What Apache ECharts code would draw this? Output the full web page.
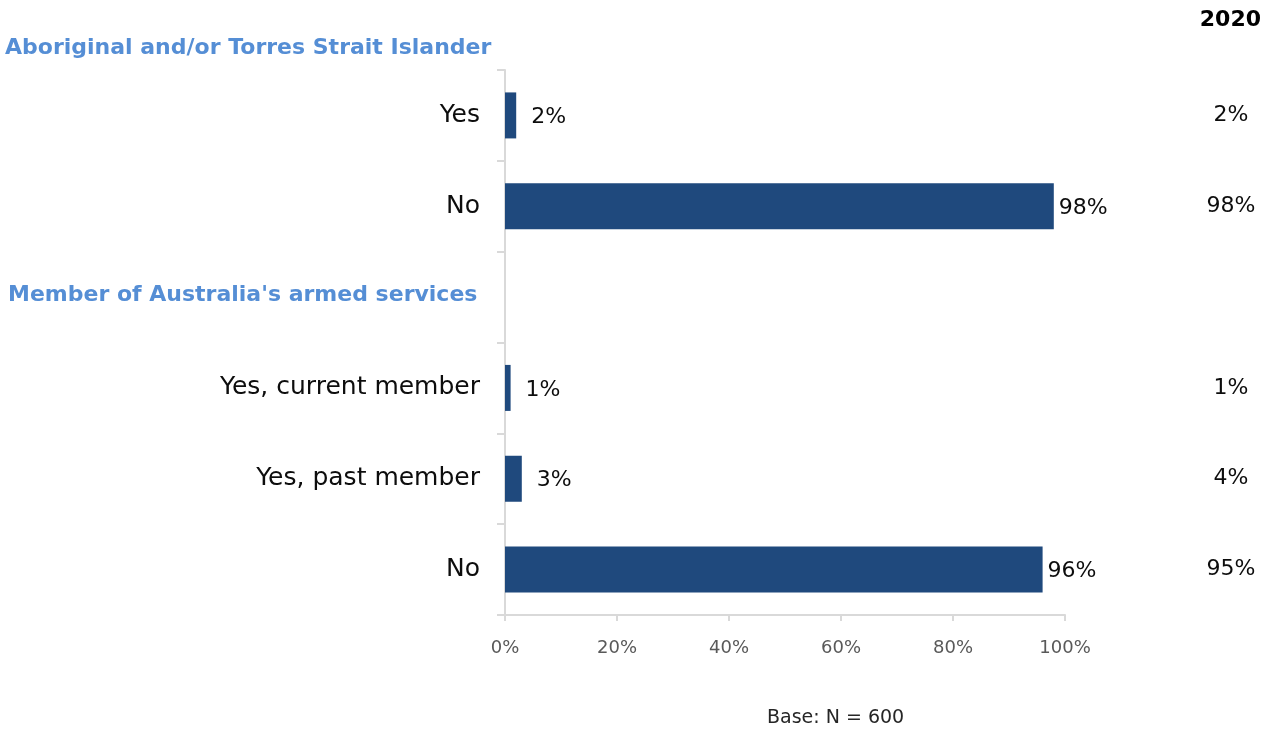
<!DOCTYPE html>
<html>
<head>
<meta charset="utf-8">
<script src="https://cdn.jsdelivr.net/npm/echarts@6/dist/echarts.min.js"></script>
<style>
  html, body { margin: 0; padding: 0; background: #fff; }
  #chart { width: 1262px; height: 731px; }
</style>
</head>
<body>
<div id="chart"></div>
<script>
// Row labels, top to bottom; the empty row holds the armed-services heading
const categories = ['Yes', 'No', '', 'Yes, current member', 'Yes, past member', 'No'];
// Current survey results (%)
const values = [2, 98, null, 1, 3, 96];
// 2020 comparison column
const values2020 = ['2%', '98%', '', '1%', '4%', '95%'];
// x-axis ticks
const xTicks = [0, 20, 40, 60, 80, 100];
const groupHeadings = ['Aboriginal and/or Torres Strait Islander', "Member of Australia's armed services"];

const FONT = 'DejaVu Sans';
const chart = echarts.init(document.getElementById('chart'));

const barData = values.map(v => v === null ? null : {
  value: v,
  label: { distance: v > 50 ? 5 : 15 }
});

chart.setOption({
  animation: false,
  textStyle: { fontFamily: FONT },
  grid: { left: 505, right: 197, top: 70, bottom: 116, containLabel: false },
  xAxis: {
    type: 'value',
    min: xTicks[0],
    max: xTicks[xTicks.length - 1],
    interval: xTicks[1] - xTicks[0],
    splitLine: { show: false },
    axisLine: { show: true, lineStyle: { color: '#d9d9d9', width: 2 } },
    axisTick: { show: true, length: 6, lineStyle: { color: '#d9d9d9', width: 2 } },
    axisLabel: { formatter: '{value}%', color: '#595959', fontSize: 18, margin: 24, fontFamily: FONT }
  },
  yAxis: [{
    type: 'category',
    data: categories,
    inverse: true,
    axisLine: { show: true, lineStyle: { color: '#d9d9d9', width: 2 } },
    axisTick: { show: true, length: 8, lineStyle: { color: '#d9d9d9', width: 2 } },
    axisLabel: { color: '#0d0d0d', fontSize: 25, margin: 25, fontFamily: FONT }
  }, {
    type: 'category',
    data: categories,
    inverse: true,
    position: 'right',
    axisLine: { show: false },
    axisTick: { show: false },
    axisLabel: {
      formatter: (v, i) => values2020[i],
      align: 'center',
      margin: 166,
      color: '#0d0d0d',
      fontSize: 22,
      fontFamily: FONT
    }
  }],
  series: [{
    type: 'bar',
    yAxisIndex: 0,
    data: barData,
    barWidth: 46,
    itemStyle: { color: '#1f497d' },
    label: {
      show: true,
      position: 'right',
      offset: [0, 2],
      formatter: '{c}%',
      color: '#0d0d0d',
      fontSize: 22,
      fontFamily: FONT
    }
  }],
  graphic: [
    { type: 'text', left: 5, top: 37,
      style: { text: groupHeadings[0], fill: '#558ed5', font: 'bold 22px "DejaVu Sans"' } },
    { type: 'text', left: 8, top: 284,
      style: { text: groupHeadings[1], fill: '#558ed5', font: 'bold 22px "DejaVu Sans"' } },
    { type: 'text', right: 1, top: 9,
      style: { text: '2020', fill: '#000', font: 'bold 22px "DejaVu Sans"' } },
    { type: 'text', left: 767, top: 709,
      style: { text: 'Base: N = 600', fill: '#262626', font: '19px "DejaVu Sans"' } }
  ]
});
</script>
</body>
</html>
